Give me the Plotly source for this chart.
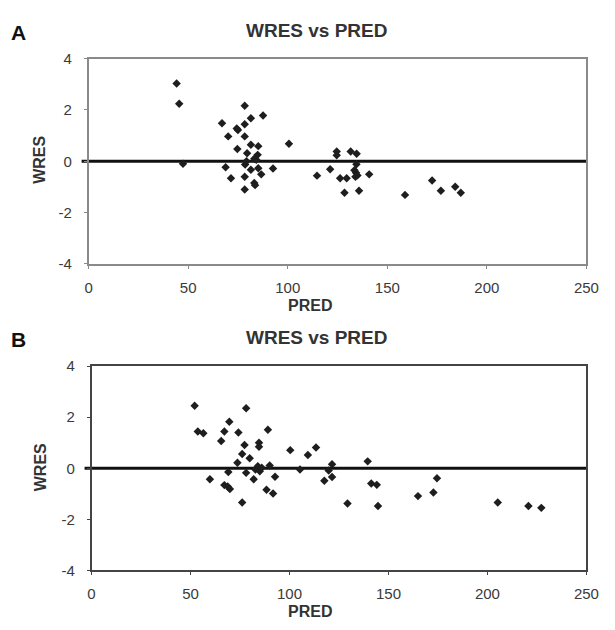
import plotly.graph_objects as go

# Panel A: weighted residuals vs population predictions
pred_a = [44.2, 45.5, 47.4, 67.0, 68.8, 70.1, 71.5, 74.4, 75.0, 74.7,
          78.4, 78.4, 78.4, 79.6, 78.6, 79.3, 78.4, 78.4, 81.5, 81.5,
          81.5, 83.2, 83.2, 83.6, 85.2, 84.9, 84.2, 85.2, 86.7, 87.6,
          92.6, 100.6, 114.7, 121.3, 124.6, 124.6, 126.3, 128.5, 129.6, 131.6,
          134.6, 133.5, 134.3, 135.0, 134.0, 134.5, 135.8, 140.9, 158.9, 172.5,
          176.9, 184.1, 186.9]
wres_a = [3.03, 2.24, -0.10, 1.48, -0.23, 0.97, -0.66, 1.28, 1.22, 0.48,
          2.16, 1.44, 0.97, 0.31, -0.13, 0.00, -0.60, -1.10, 1.68, 0.64,
          -0.33, 0.10, -0.85, -0.93, 0.59, 0.25, 0.06, -0.27, -0.51, 1.78,
          -0.28, 0.68, -0.56, -0.31, 0.38, 0.23, -0.66, -1.23, -0.66, 0.38,
          0.29, -0.35, -0.45, -0.55, -0.60, -0.12, -1.15, -0.51, -1.31, -0.75,
          -1.15, -0.99, -1.23]

# Panel B: weighted residuals vs population predictions
pred_b = [52.1, 53.7, 56.5, 59.8, 65.5, 67.1, 67.1, 68.8, 69.9, 69.6,
          69.1, 73.7, 74.2, 76.1, 76.1, 77.3, 78.1, 78.1, 79.9, 81.9,
          82.8, 84.0, 85.0, 86.0, 84.6, 84.6, 88.4, 89.1, 90.0, 91.7,
          92.7, 100.4, 105.3, 109.3, 113.4, 117.6, 119.8, 121.5, 121.5, 129.3,
          139.5, 141.3, 144.1, 144.7, 164.9, 172.7, 174.5, 205.2, 220.7, 227.2]
wres_b = [2.45, 1.44, 1.37, -0.43, 1.07, 1.44, -0.66, -0.71, -0.81, 1.82,
          -0.15, 0.22, 1.40, 0.56, -1.34, 0.91, 2.35, -0.18, 0.39, -0.43,
          -0.05, 0.08, -0.12, 0.02, 1.00, 0.84, -0.84, 1.51, 0.11, -0.99,
          -0.33, 0.71, -0.05, 0.52, 0.81, -0.49, -0.09, 0.16, -0.34, -1.38,
          0.27, -0.60, -0.65, -1.48, -1.09, -0.95, -0.39, -1.34, -1.48, -1.55]

x_ticks = [0, 50, 100, 150, 200, 250]
y_ticks = [-4, -2, 0, 2, 4]
y_tick_text = ["-4", "-2", "0", "2", "4"]
panel_labels = ["A", "B"]
plot_title = "WRES vs PRED"

W, H = 615, 630
FONT = "Liberation Sans, Arial, sans-serif"
TICK_FONT = dict(family=FONT, size=15, color="#3a3a3a")
marker = dict(symbol="diamond", size=6.5, color="#1e1e1e", line=dict(width=0))

fig = go.Figure()
fig.add_trace(go.Scatter(x=pred_a, y=wres_a, mode="markers", marker=marker,
                         xaxis="x", yaxis="y", showlegend=False))
fig.add_trace(go.Scatter(x=pred_b, y=wres_b, mode="markers", marker=marker,
                         xaxis="x2", yaxis="y2", showlegend=False))


def px_x(p):
    return p / W


def px_y(p):
    return 1 - p / H


def xaxis(domain, anchor, linecolor):
    return dict(domain=domain, anchor=anchor, range=[0, 250], tickvals=x_ticks,
                showgrid=False, zeroline=False, showline=True, mirror=True,
                linecolor=linecolor, linewidth=1.5, ticks="outside", ticklen=3,
                tickcolor=linecolor, ticklabelstandoff=6, tickfont=TICK_FONT)


def yaxis(domain, anchor, linecolor):
    return dict(domain=domain, anchor=anchor, range=[-4, 4],
                tickvals=y_ticks, ticktext=y_tick_text,
                showgrid=False, zeroline=False, showline=True, mirror=True,
                linecolor=linecolor, linewidth=1.5, ticks="outside", ticklen=3,
                tickcolor=linecolor, ticklabelstandoff=9, tickfont=TICK_FONT)


fig.update_layout(
    width=W, height=H,
    margin=dict(l=0, r=0, t=0, b=0),
    paper_bgcolor="white", plot_bgcolor="white",
    xaxis=xaxis([px_x(87), px_x(599)], "y", "#8a8a8a"),
    yaxis=yaxis([px_y(262), px_y(51)], "x", "#8a8a8a"),
    xaxis2=xaxis([px_x(90), px_x(599)], "y2", "#444444"),
    yaxis2=yaxis([px_y(577), px_y(367)], "x2", "#444444"),
)

# heavy reference line at WRES = 0, drawn beneath the markers
for xr, yr in [("x", "y"), ("x2", "y2")]:
    fig.add_shape(type="line", xref=f"{xr} domain", yref=yr, x0=-0.014, x1=1, y0=0, y1=0,
                  line=dict(color="#111111", width=3), layer="below")

annotations = []
for label, title_y, xtitle_y, ytitle_y in zip(panel_labels, [22, 338], [305, 619], [155, 471]):
    annotations.append(dict(text=label, x=px_x(15), y=px_y(title_y + 2), xref="paper", yref="paper",
                            xanchor="center", yanchor="middle", showarrow=False,
                            font=dict(family=FONT, size=21, color="#111111", weight="bold")))
    annotations.append(dict(text=plot_title, x=px_x(321), y=px_y(title_y), xref="paper", yref="paper",
                            xanchor="center", yanchor="middle", showarrow=False,
                            font=dict(family=FONT, size=19, color="#333333", weight="bold")))
    annotations.append(dict(text="PRED", x=px_x(315), y=px_y(xtitle_y), xref="paper", yref="paper",
                            xanchor="center", yanchor="middle", showarrow=False,
                            font=dict(family=FONT, size=16, color="#333333", weight="bold")))
    annotations.append(dict(text="WRES", x=px_x(37), y=px_y(ytitle_y), xref="paper", yref="paper",
                            xanchor="center", yanchor="middle", showarrow=False, textangle=-90,
                            font=dict(family=FONT, size=16, color="#333333", weight="bold")))

fig.update_layout(annotations=annotations)
fig.write_html("out.html")
